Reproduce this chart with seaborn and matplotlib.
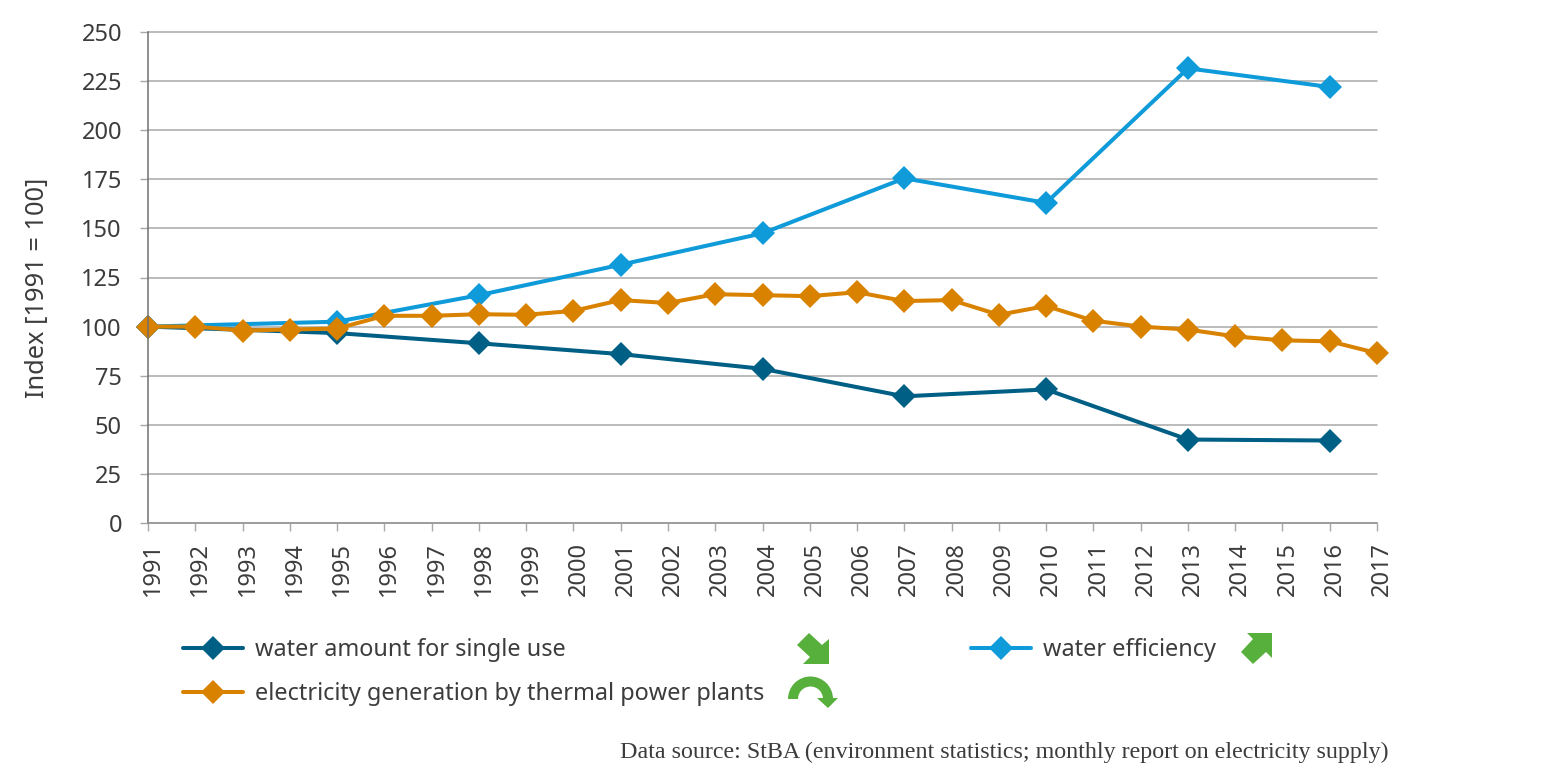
"""Index chart: water use, water efficiency and thermal electricity generation."""
import numpy as np
import pandas as pd
import matplotlib
matplotlib.use("Agg")
import matplotlib.pyplot as plt
from matplotlib.patches import Polygon, Wedge
from matplotlib.transforms import Affine2D, ScaledTranslation
import seaborn as sns

YEARS_ALL = list(range(1991, 2018))
YEARS_SPARSE = [1991, 1995, 1998, 2001, 2004, 2007, 2010, 2013, 2016]
SINGLE_USE = [100, 96.7, 91.5, 86, 78.5, 64.5, 68, 42.5, 42]
EFFICIENCY = [100, 102.5, 116, 131.5, 147.5, 175.5, 163, 231.5, 222]
ELECTRICITY = [100, 100, 98, 98.5, 99, 105.5, 105.5, 106.3, 106, 108, 113.5, 112, 116.5,
               116, 115.5, 117.5, 113, 113.5, 106, 110.5, 103, 100, 98.5, 95, 93, 92.5, 86.5]
Y_TICKS = list(range(0, 251, 25))

NAME_SINGLE = "water amount for single use"
NAME_EFF = "water efficiency"
NAME_ELEC = "electricity generation by thermal power plants"
PALETTE = {NAME_SINGLE: "#005f85", NAME_EFF: "#0f9bd9", NAME_ELEC: "#d98200"}
TEXT = "#3c3c3c"
GREEN = "#58b03c"
W, H = 1545, 775

sns.set_theme(style="white")
plt.rcParams["font.family"] = ["Noto Sans", "DejaVu Sans"]

df = pd.concat([
    pd.DataFrame({"year": YEARS_SPARSE, "index": SINGLE_USE, "series": NAME_SINGLE}),
    pd.DataFrame({"year": YEARS_SPARSE, "index": EFFICIENCY, "series": NAME_EFF}),
    pd.DataFrame({"year": YEARS_ALL, "index": ELECTRICITY, "series": NAME_ELEC}),
])

fig = plt.figure(figsize=(W / 100, H / 100), dpi=100)
ax = fig.add_axes([148 / W, 1 - 523 / H, (1377 - 148) / W, (523 - 32) / H])
ax.set_axisbelow(True)
ax.grid(axis="y", color="#a8a8a8", lw=1.1, clip_on=False)

sns.lineplot(data=df, x="year", y="index", hue="series", palette=PALETTE,
             hue_order=[NAME_SINGLE, NAME_EFF, NAME_ELEC], ax=ax, lw=2.9,
             marker="D", markersize=12, markeredgewidth=0, clip_on=False, legend=False,
             errorbar=None, sort=False)

ax.set_xlim(1991, 2017)
ax.set_ylim(0, 250)
ax.set_xticks(YEARS_ALL)
ax.set_yticks(Y_TICKS)
ax.set_xticklabels([str(y) for y in YEARS_ALL], rotation=90)
ax.tick_params(axis="x", length=5.8, width=1, color="#a8a8a8", labelsize=17, labelcolor=TEXT, pad=8, bottom=True)
ax.tick_params(axis="y", length=5.8, width=1, color="#a8a8a8", labelsize=17, labelcolor=TEXT, pad=13, left=True)
ax.get_xticklines()[0].set_color("#707070")
# year labels sit a little right of their ticks
nudge = ScaledTranslation(5 / 100, 0, fig.dpi_scale_trans)
for lab in ax.get_xticklabels():
    lab.set_transform(lab.get_transform() + nudge)
for side in ["top", "right"]:
    ax.spines[side].set_visible(False)
ax.spines["left"].set_color("#707070")
ax.spines["left"].set_linewidth(1.1)
ax.spines["bottom"].set_color("#959595")
ax.spines["bottom"].set_linewidth(1.1)
ax.set_xlabel("")
ax.set_ylabel("Index [1991 = 100]", fontsize=18.3, color=TEXT)
ax.yaxis.set_label_coords((50 - 148) / (1377 - 148), (523 - 288) / (523 - 32))

# legend entries sit in two uneven columns, so two legends
lines = {name: ax.lines[i] for i, name in enumerate([NAME_SINGLE, NAME_EFF, NAME_ELEC])}
common = dict(frameon=False, fontsize=16.9, labelcolor=TEXT, handlelength=2.55, handletextpad=0.5,
              labelspacing=0.87, borderaxespad=0, borderpad=0, loc="upper left")
fig.legend([lines[NAME_SINGLE], lines[NAME_ELEC]], [NAME_SINGLE, NAME_ELEC],
           bbox_to_anchor=(183 / W, 1 - 638 / H), **common)
fig.legend([lines[NAME_EFF]], [NAME_EFF], bbox_to_anchor=(971 / W, 1 - 638 / H), **common)

fig.text(1388 / W, 1 - 752 / H, "Data source: StBA (environment statistics; monthly report on electricity supply)",
         family="Liberation Serif", fontsize=17.32, color=TEXT, ha="right", va="center")

# trend icons, placed in pixels from the top left of the figure
px = Affine2D().scale(1, -1).translate(0, H)
icon_down = [(797, 645), (809, 633), (822, 645), (829, 639), (829, 664), (803, 664), (810, 657)]
icon_up = [(1241, 652), (1253, 664), (1266, 652), (1272, 658), (1272, 633), (1247, 633), (1253, 639)]
for pts in (icon_down, icon_up):
    fig.add_artist(Polygon(pts, closed=True, color=GREEN, lw=0, transform=px))
fig.add_artist(Wedge((810.5, 699), 22.5, 180, 360, width=10, color=GREEN, lw=0, transform=px))
fig.add_artist(Polygon([(817, 698), (838, 698), (828, 708)], closed=True, color=GREEN, lw=0, transform=px))

fig.savefig("out.png", dpi=100)
